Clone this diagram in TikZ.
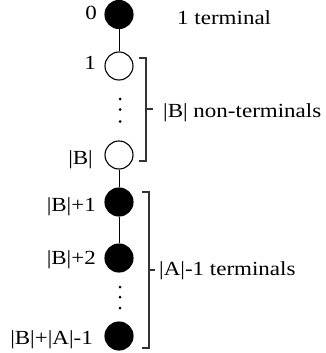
\documentclass[tikz,border=0pt]{standalone}
\usepackage{fontspec}
\setmainfont{Liberation Serif}[FakeStretch=1.15]
\begin{document}
\begin{tikzpicture}[x=1pt,y=-1pt,
  vtx/.style={circle,draw=black,line width=1.1pt,minimum size=28pt,inner sep=0pt},
  term/.style={vtx,fill=black},
  nonterm/.style={vtx,fill=white},
  lbl/.style={anchor=east,inner sep=0pt,font=\fontsize{20}{20}\selectfont},
  txt/.style={anchor=base west,inner sep=0pt,font=\fontsize{20}{20}\selectfont},
  edge/.style={line width=0.9pt,black},
  brk/.style={line width=1.3pt,draw=black!80},
  dotm/.style={circle,fill=black,inner sep=0pt,minimum size=3pt}]
\useasboundingbox (0,0) rectangle (326,353);
\node[term] (n0) at (119,14.5) {};
\node[nonterm] (n1) at (119,66) {};
\node[nonterm] (nB) at (119,155) {};
\node[term] (nB1) at (119,202) {};
\node[term] (nB2) at (119,258) {};
\node[term] (nL) at (119,336) {};
\draw[edge] (n0) -- (n1);
\draw[edge] (nB) -- (nB1);
\draw[edge] (nB1) -- (nB2);
\node[dotm] (d1) at (120,99) {};
\node[dotm] (d2) at (120,109.5) {};
\node[dotm] (d3) at (120,121.5) {};
\node[dotm] (d4) at (120,287) {};
\node[dotm] (d5) at (120,297) {};
\node[dotm] (d6) at (120,308) {};
\node[lbl] (l0) at (97,13) {0};
\node[lbl] (l1) at (96,62.5) {1};
\node[lbl] (lB) at (93,160) {|B|};
\node[lbl] (lB1) at (96,206.5) {|B|+1};
\node[lbl] (lB2) at (96,260) {|B|+2};
\node[lbl] (lL) at (93,340) {|B|+|A|-1};
\node[txt] (t1) at (177,25) {1 terminal};
\draw[brk] (139,58) -- (146,58) -- (146,161) -- (139,161);
\draw[brk] (146,109) -- (153,109);
\node[txt] (t2) at (163,117) {|B| non-terminals};
\draw[brk] (142,192) -- (149,192) -- (149,348) -- (142,348);
\draw[brk] (149,270) -- (155,270);
\node[txt] (t3) at (159,275) {|A|-1 terminals};
\end{tikzpicture}
\end{document}
